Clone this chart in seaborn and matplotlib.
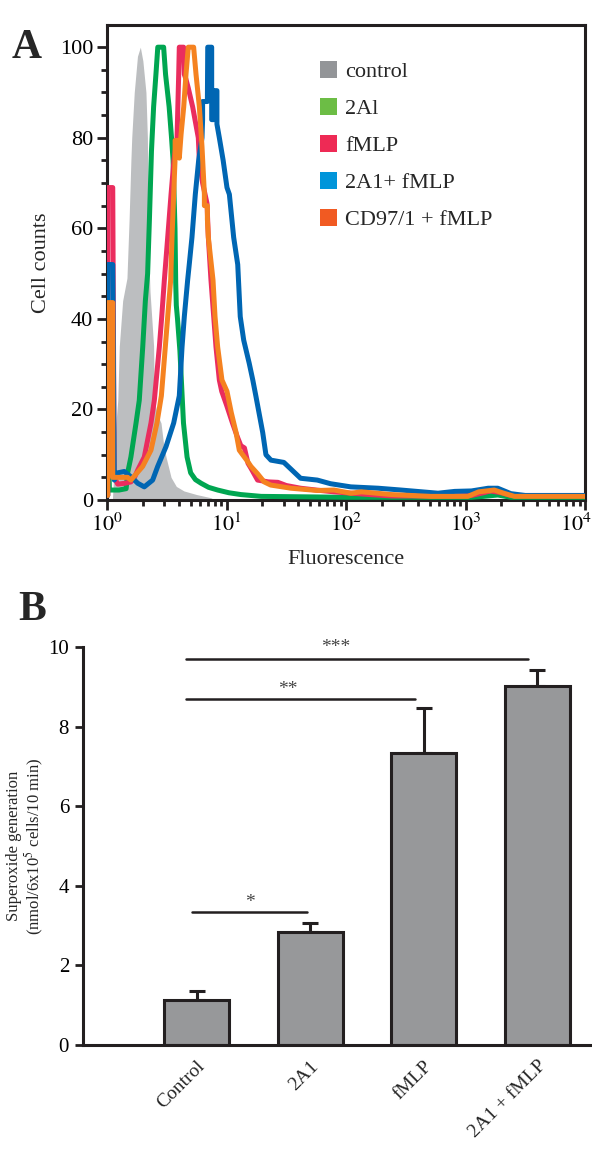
import numpy as np
import pandas as pd
import matplotlib
matplotlib.use("Agg")
import matplotlib.pyplot as plt
from matplotlib.patches import Patch
from matplotlib.ticker import MultipleLocator, LogLocator, FixedLocator
from matplotlib.transforms import ScaledTranslation
import seaborn as sns

# === PANEL A: flow cytometry histograms (x stored as log10 fluorescence) ===
ctrl_x = [0.045, 0.055, 0.061, 0.075, 0.09, 0.103, 0.131, 0.167, 0.185, 0.2, 0.207, 0.228, 0.255,
          0.279, 0.30, 0.326, 0.338, 0.342, 0.348, 0.36, 0.375, 0.39, 0.396, 0.42, 0.452, 0.475,
          0.494, 0.536, 0.58, 0.644, 0.75, 0.87, 0.9]
ctrl_y = [0, 5, 9.5, 17, 22, 34, 44, 49, 62, 75, 80, 90, 98,
          100, 97, 90, 80, 70, 55, 46, 40, 34, 22, 19, 17, 12,
          9.5, 5, 3, 2, 1.2, 0.5, 0]

a2_x = [0.01, 0.02, 0.06, 0.10, 0.16, 0.173, 0.20, 0.243, 0.27, 0.299, 0.321, 0.34, 0.355, 0.372,
        0.39, 0.41, 0.425, 0.474, 0.49, 0.52, 0.54, 0.553, 0.569, 0.575, 0.58, 0.59, 0.61, 0.625,
        0.64, 0.67, 0.70, 0.74, 0.787, 0.85, 0.926, 1.02, 1.12, 1.29, 2.0, 3.05, 3.15, 3.27, 3.38, 4.0]
a2_y = [17.7, 2.2, 2.2, 2.2, 2.5, 6, 9.5, 17, 22, 33.8, 44, 50, 62, 77,
        86.8, 94.2, 100, 100, 94, 86.8, 80, 75, 60, 48, 43, 40, 33, 25,
        17, 9.5, 6, 4.5, 3.7, 2.8, 2.2, 1.6, 1.2, 0.8, 0.6, 0.6, 0.8, 1.1, 0.6, 0.6]

fmlp_x = [0.006, 0.006, 0.048, 0.06, 0.09, 0.15, 0.2, 0.23, 0.257, 0.312, 0.368, 0.396, 0.438, 0.458,
          0.48, 0.508, 0.536, 0.56, 0.586, 0.60, 0.605, 0.641, 0.647, 0.66, 0.68, 0.717, 0.764, 0.773,
          0.80, 0.837, 0.848, 0.87, 0.893, 0.912, 0.94, 0.96, 1.0, 1.05, 1.09, 1.12, 1.15, 1.18, 1.205,
          1.26, 1.35, 1.43, 1.5, 1.62, 1.75, 1.9, 2.04, 2.2, 2.38, 2.88, 3.05, 3.15, 3.21, 3.3, 3.38, 4.0]
fmlp_y = [1, 69, 69, 5, 3.5, 3.7, 4, 5, 6.6, 9.5, 17, 22, 33.8, 40.5,
          48.6, 58, 67.5, 75, 80, 94, 100, 100, 94, 93, 91, 86.8, 80, 75,
          70, 65.5, 58, 48.6, 40.5, 33.8, 26.5, 24, 21, 17, 14, 12, 11.5, 8.1, 7,
          4.4, 4, 3.9, 3.2, 2.6, 2.2, 1.8, 1.5, 1.2, 0.9, 0.9, 1.0, 1.6, 2.0, 1.6, 1.0, 1.0]

combo_x = [0.006, 0.006, 0.048, 0.061, 0.09, 0.145, 0.215, 0.257, 0.312, 0.382, 0.424, 0.494, 0.558,
           0.605, 0.628, 0.647, 0.675, 0.689, 0.711, 0.739, 0.767, 0.795, 0.80, 0.80, 0.84, 0.843,
           0.876, 0.876, 0.895, 0.895, 0.92, 0.92, 0.94, 0.972, 1.004, 1.024, 1.06, 1.094, 1.105,
           1.115, 1.144, 1.19, 1.22, 1.247, 1.303, 1.33, 1.372, 1.48, 1.54, 1.62, 1.76, 1.87, 2.04,
           2.27, 2.46, 2.77, 2.91, 3.05, 3.19, 3.27, 3.38, 3.5, 4.0]
combo_y = [1, 52, 52, 4.4, 6, 6.3, 4.8, 3.7, 2.9, 4.4, 7.4, 11.8, 17,
           23, 33.8, 40.5, 48.6, 52.2, 58, 67.5, 75, 80, 84, 88, 88, 100,
           100, 84, 84, 90.4, 90.4, 83, 80, 75, 69, 67.5, 58, 52, 46,
           40.5, 35.3, 30.2, 26.5, 22.8, 14.9, 10, 8.8, 8.3, 6.8, 4.8, 4.4, 3.6, 2.9,
           2.6, 2.2, 1.5, 1.9, 2.0, 2.6, 2.6, 1.4, 1.0, 1.0]

cd97_x = [0.006, 0.006, 0.048, 0.048, 0.1, 0.173, 0.2, 0.229, 0.298, 0.368, 0.418, 0.455, 0.488,
          0.508, 0.533, 0.544, 0.558, 0.57, 0.57, 0.60, 0.605, 0.62, 0.642, 0.661, 0.68, 0.725,
          0.745, 0.773, 0.795, 0.815, 0.815, 0.84, 0.84, 0.848, 0.887, 0.904, 0.926, 0.962, 1.004,
          1.04, 1.08, 1.107, 1.177, 1.205, 1.26, 1.315, 1.37, 1.54, 1.76, 1.9, 2.04, 2.13, 2.38,
          2.71, 3.02, 3.11, 3.24, 3.32, 3.41, 4.0]
cd97_y = [1, 43.6, 43.6, 5, 5, 5, 4.4, 5.3, 7.4, 11, 17, 23, 33.8,
          40.5, 48.6, 58, 67.5, 75.5, 79.4, 79.4, 75.5, 80.8, 86.8, 94, 100, 100,
          94, 86.8, 78, 67.5, 65, 65, 62, 58, 48.6, 40.5, 33.8, 26.5, 24,
          19.3, 14.9, 11, 8.5, 7.4, 5.8, 4.0, 3.3, 2.6, 2.1, 2.2, 1.5, 1.8, 1.2,
          0.8, 0.8, 1.8, 2.2, 1.5, 0.8, 0.8]

legend_labels = ['control', '2Al', 'fMLP', '2A1+ fMLP', 'CD97/1 + fMLP']
legend_colors = ['#939598', '#6cbd45', '#ee2a55', '#0095da', '#f15a22']

fl_ticks = [1, 10, 100, 1000, 10000]
fl_ticklabels = ['$10^0$', '$10^1$', '$10^2$', '$10^3$', '$10^4$']

# === PANEL B: superoxide generation ===
conditions = ['Control', '2A1', 'fMLP', '2A1 + fMLP']
superoxide = [1.14, 2.83, 7.34, 9.03]
superoxide_err = [0.21, 0.24, 1.13, 0.39]

sig_x0 = [-0.04, -0.09, -0.09]
sig_x1 = [0.97, 1.92, 2.92]
sig_y = [3.34, 8.70, 9.70]
sig_text = ['*', '**', '***']
sig_text_x = [0.47, 0.80, 1.22]
sig_text_y = [3.58, 8.92, 9.98]

# === STYLE ===
sns.set_style('ticks')
plt.rcParams['font.family'] = ['Liberation Serif', 'DejaVu Serif']
plt.rcParams['mathtext.fontset'] = 'stix'

DARK = '#231f20'
W, H = 592, 1149
fig = plt.figure(figsize=(W / 100, H / 100), dpi=100)

# ── panel A ────────────────────────────────────────────────────────────────
axA = fig.add_axes([107 / W, 1 - 500 / H, (585 - 107) / W, (500 - 25) / H])

axA.fill_between(10 ** np.array(ctrl_x), ctrl_y, 0, color='#bcbec0', lw=0, zorder=1)
curves = [
    (a2_x, a2_y, '#00a651'),
    (fmlp_x, fmlp_y, '#ea2d5e'),
    (combo_x, combo_y, '#0066b3'),
    (cd97_x, cd97_y, '#f58220'),
]
for xs, ys, col in curves:
    d = pd.DataFrame({'fl': 10 ** np.array(xs), 'count': ys})
    sns.lineplot(data=d, x='fl', y='count', sort=False, estimator=None,
                 color=col, lw=3.6, ax=axA, zorder=3)

axA.set_xscale('log')
axA.set_xlim(1, 1e4)
axA.set_ylim(0, 104.9)
axA.set_yticks([0, 20, 40, 60, 80, 100])
axA.yaxis.set_minor_locator(MultipleLocator(5))
axA.xaxis.set_major_locator(FixedLocator(fl_ticks))
axA.xaxis.set_minor_locator(LogLocator(base=10, subs=np.arange(2, 10), numticks=20))
axA.set_xticklabels(fl_ticklabels)
axA.tick_params(which='major', direction='out', length=7, width=2, labelsize=16,
                colors=DARK, labelcolor='black', pad=3)
axA.tick_params(which='minor', direction='out', length=4, width=2, colors=DARK)
axA.tick_params(top=False, right=False, which='both')
last = axA.get_xticklabels()[-1]
last.set_transform(last.get_transform() + ScaledTranslation(-9 / 100, 0, fig.dpi_scale_trans))
for s in axA.spines.values():
    s.set_linewidth(2.2)
    s.set_color(DARK)
axA.set_xlabel('Fluorescence', fontsize=16, labelpad=10)
axA.set_ylabel('Cell counts', fontsize=16, labelpad=6)

handles = [Patch(facecolor=c, edgecolor='none') for c in legend_colors]
axA.legend(handles, legend_labels, loc='upper left', bbox_to_anchor=(0.445, 0.925),
           frameon=False, fontsize=16, handlelength=0.8, handleheight=0.8,
           handletextpad=0.35, labelspacing=0.71, borderaxespad=0, borderpad=0)

# ── panel B ────────────────────────────────────────────────────────────────
axB = fig.add_axes([83 / W, 1 - 1045 / H, (592 - 83) / W, (1045 - 647) / H])
dfB = pd.DataFrame({'condition': conditions, 'superoxide': superoxide})
sns.barplot(data=dfB, x='condition', y='superoxide', color='#97989a', saturation=1,
            edgecolor=DARK, linewidth=2.2, width=0.57, errorbar=None, ax=axB, zorder=2)
axB.errorbar(np.arange(len(conditions)), superoxide,
             yerr=[np.zeros(len(conditions)), superoxide_err],
             fmt='none', ecolor=DARK, elinewidth=2.2, capsize=5.5, capthick=2.2, zorder=1)

for x0, x1, y, t, tx, ty in zip(sig_x0, sig_x1, sig_y, sig_text, sig_text_x, sig_text_y):
    axB.plot([x0, x1], [y, y], color=DARK, lw=1.8, clip_on=False)
    axB.text(tx, ty, t, ha='center', va='center', fontsize=14, color='#444444')

axB.set_xlim(-1.0, 3.48)
axB.set_ylim(0, 10)
axB.set_yticks([0, 2, 4, 6, 8, 10])
sns.despine(ax=axB)
for s in axB.spines.values():
    s.set_linewidth(2.2)
    s.set_color(DARK)
axB.tick_params(axis='y', direction='out', length=6, width=2, labelsize=15, colors=DARK,
                labelcolor='black', pad=4)
axB.tick_params(axis='x', length=0, labelsize=14, pad=9)
axB.set_xticks(range(len(conditions)))
axB.set_xticklabels(conditions, rotation=45, ha='right', rotation_mode='anchor')
axB.set_xlabel('')
axB.set_ylabel('Superoxide generation\n(nmol/6x10$^5$ cells/10 min)', fontsize=12,
               linespacing=1.05, labelpad=2)

fig.text(12 / W, 1 - 58 / H, 'A', fontsize=30, fontweight='bold')
fig.text(18 / W, 1 - 620 / H, 'B', fontsize=30, fontweight='bold')

fig.savefig('out.png', dpi=100)
